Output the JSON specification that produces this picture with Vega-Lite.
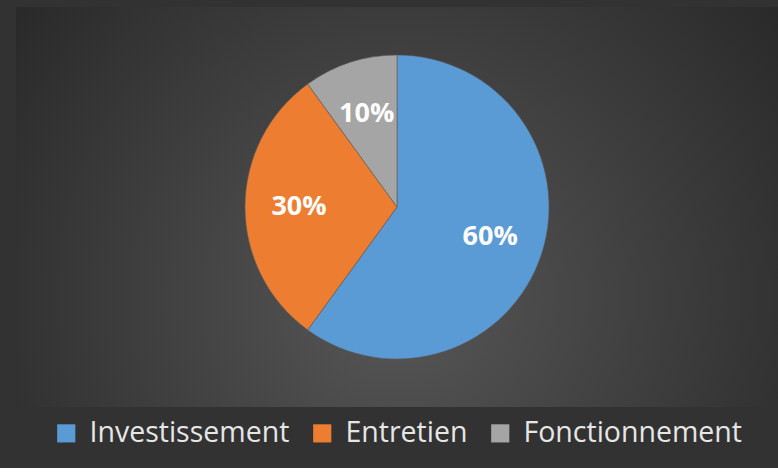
{
  "$schema": "https://vega.github.io/schema/vega-lite/v6.json",
  "width": 762,
  "height": 400,
  "padding": {"top": 7, "left": 16, "right": 0, "bottom": 20},
  "background": "#323232",
  "view": {
    "stroke": null,
    "fill": {
      "gradient": "radial",
      "x1": 0.5, "y1": 0.62, "r1": 0,
      "x2": 0.5, "y2": 0.62, "r2": 0.62,
      "stops": [
        {"offset": 0, "color": "#575757"},
        {"offset": 1, "color": "#2a2a2a"}
      ]
    }
  },
  "data": {
    "values": [
      {"category": "Investissement", "share": 0.6},
      {"category": "Entretien", "share": 0.3},
      {"category": "Fonctionnement", "share": 0.1}
    ]
  },
  "encoding": {
    "theta": {"field": "share", "type": "quantitative", "stack": true},
    "order": {"field": "share", "type": "quantitative", "sort": "descending"},
    "color": {
      "field": "category",
      "type": "nominal",
      "sort": ["Investissement", "Entretien", "Fonctionnement"],
      "scale": {
        "domain": ["Investissement", "Entretien", "Fonctionnement"],
        "range": ["#5B9BD5", "#ED7D31", "#A5A5A5"]
      },
      "legend": {
        "title": null,
        "orient": "bottom",
        "direction": "horizontal",
        "offset": 12,
        "symbolType": "square",
        "symbolSize": 330,
        "symbolStrokeWidth": 0,
        "labelFont": "Open Sans",
        "labelFontSize": 28.5,
        "labelLimit": 0,
        "labelColor": "#e6e6e6",
        "columnPadding": 18,
        "symbolOffset": 0,
        "labelOffset": 9
      }
    }
  },
  "layer": [
    {
      "mark": {"type": "arc", "outerRadius": 152, "stroke": "#5a5a5a", "strokeWidth": 0.6}
    },
    {
      "mark": {
        "type": "text",
        "radius": 98,
        "font": "Open Sans",
        "fontWeight": "bold",
        "fontSize": 27,
        "fill": "#ffffff"
      },
      "encoding": {
        "text": {"field": "share", "type": "quantitative", "format": ".0%"},
        "color": {"value": "#ffffff"}
      }
    }
  ],
  "config": {"legend": {"layout": {"bottom": {"anchor": "middle"}}}}
}
